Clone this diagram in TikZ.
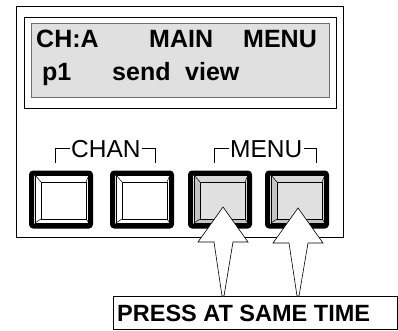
\documentclass[tikz,border=0pt]{standalone}
\usepackage{fontspec}
\setmainfont{Liberation Sans}
\usetikzlibrary{calc}
\definecolor{lcdgray}{HTML}{E0E0E0}
\definecolor{lcdedge}{HTML}{6E6E6E}
\definecolor{bevlt}{HTML}{D8D8D8}
\definecolor{bevdk}{HTML}{C4C4C4}
\begin{document}
\begin{tikzpicture}[x=1pt, y=-1pt, line join=miter,
  lcdtext/.style={font=\fontsize{25}{25}\selectfont\bfseries, inner sep=0pt, anchor=base west},
  keytext/.style={font=\fontsize{24.5}{24.5}\selectfont, inner sep=0pt, anchor=base west},
  pressarrow/.style={draw=black, fill=white, line width=.6pt}]
\useasboundingbox (0,0) rectangle (398,330);
%Khung ngoài và màn hình
\draw[line width=.8pt] (16,6) rectangle (343,237);
\draw[line width=.8pt] (24,17) rectangle (336,108);
\draw[lcdedge, fill=lcdgray, line width=1pt] (31,23) rectangle (329,97);
\node[lcdtext] (cha) at (36,47) {CH:A};
\node[lcdtext] (main) at (149,47) {MAIN};
\node[lcdtext] (menu) at (243,47) {MENU};
\node[lcdtext] (p1) at (42,80) {p1};
\node[lcdtext] (send) at (112,80) {send};
\node[lcdtext] (view) at (185,80) {view};
%Nhãn nhóm nút
\node[keytext] (chan) at (71,157) {CHAN};
\node[keytext] (mnu) at (230,157) {MENU};
\foreach \k in {chan,mnu}{
  \draw[line width=.6pt] ($(\k.base west)+(-16,6)$) |- ($(\k.base west)+(-1,-9)$);
  \draw[line width=.6pt] ($(\k.base east)+(1,-9)$) -| ($(\k.base east)+(14,6)$);
}
%Các nút bấm
\foreach \bx/\face/\lt/\dk in {29/white/white/white,110/white/white/white,188/lcdgray/bevlt/bevdk,265/lcdgray/bevlt/bevdk}{
  \fill[\lt] (\bx+6,175) -- (\bx+60,175) -- (\bx+57,182) -- (\bx+12,182) -- cycle;
  \fill[\lt] (\bx+60,175) -- (\bx+60,223) -- (\bx+57,219) -- (\bx+57,182) -- cycle;
  \fill[\dk] (\bx+6,223) -- (\bx+60,223) -- (\bx+57,219) -- (\bx+12,219) -- cycle;
  \fill[\dk] (\bx+6,175) -- (\bx+6,223) -- (\bx+12,219) -- (\bx+12,182) -- cycle;
  \fill[\face] (\bx+12,182) rectangle (\bx+57,219);
  \draw[line width=.5pt] (\bx+6,175) rectangle (\bx+60,223) (\bx+12,182) rectangle (\bx+57,219);
  \draw[line width=.5pt] (\bx+6,175) -- (\bx+12,182) (\bx+60,175) -- (\bx+57,182)
    (\bx+6,223) -- (\bx+12,219) (\bx+60,223) -- (\bx+57,219);
  \draw[line width=5pt, rounded corners=2pt] (\bx+2.5,173) rectangle (\bx+61.5,226);
}
%Hộp chữ và mũi tên
\node[draw, line width=.8pt, minimum width=284pt, minimum height=33pt, inner sep=0pt, anchor=north west] (lbl) at (113,296) {};
\node[lcdtext, font=\fontsize{23.5}{23.5}\selectfont\bfseries] (lbltxt) at (117,321) {PRESS AT SAME TIME};
\coordinate (tipA) at (223,207);
\coordinate (tipB) at (298,208);
\foreach \t in {tipA,tipB}{
  \coordinate (foot) at (lbl.north -| \t);
  \draw[pressarrow] (\t) -- ++(25,35) -- ++(-15,0) -- ($(foot)+(1,0)$) -- ($(foot)+(-1,0)$)
    -- ($(\t)+(-9,35)$) -- ++(-16,0) -- cycle;
}
\end{tikzpicture}
\end{document}
